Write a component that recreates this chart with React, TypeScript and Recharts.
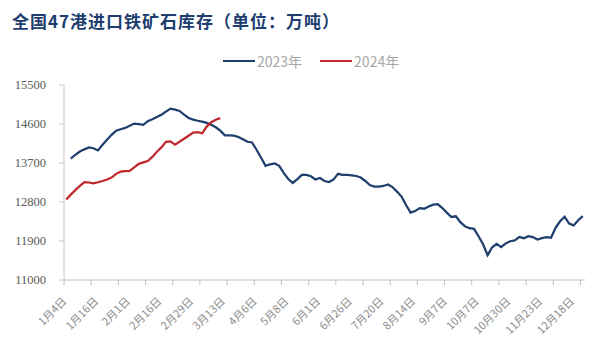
import { Line, LineChart, ReferenceLine, XAxis, YAxis } from "recharts";

const title = "全国47港进口铁矿石库存（单位：万吨）";
const seriesNames = ["2023年", "2024年"];
const seriesColors = ["#1f3f6e", "#c0282d"];

// one label every 7 observations, one tick mark every 6 (as in the source)
const dateLabels = [
  "1月4日", "1月16日", "2月1日", "2月16日", "2月29日", "3月13日", "4月6日", "5月8日", "6月1日",
  "6月26日", "7月20日", "8月14日", "9月7日", "10月7日", "10月30日", "11月23日", "12月18日"
];
const labelStep = 7;
const markStep = 6;
const markCount = 20;

const yTicks = [11000, 11900, 12800, 13700, 14600, 15500];
const yMin = 11000;
const yMax = 15500;

const inventory2023 = [
  null, 13800, 13890, 13965, 14015, 14060, 14040, 13990, 14120, 14235,
  14350, 14445, 14480, 14510, 14560, 14610, 14595, 14580, 14665, 14710,
  14760, 14815, 14885, 14955, 14930, 14900, 14815, 14740, 14700, 14675,
  14655, 14625, 14585, 14525, 14445, 14340, 14340, 14330, 14300, 14250,
  14190, 14175, 14005, 13820, 13635, 13670, 13690, 13635, 13470, 13330,
  13240, 13330, 13425, 13425, 13395, 13320, 13355, 13285, 13260, 13320,
  13450, 13425, 13425, 13415, 13400, 13365, 13285, 13190, 13155, 13155,
  13170, 13205, 13145, 13040, 12925, 12730, 12555, 12590, 12660, 12645,
  12695, 12740, 12750, 12660, 12555, 12455, 12470, 12335, 12240, 12195,
  12180, 12010, 11825, 11570, 11755, 11835, 11760, 11845, 11895, 11915,
  11995, 11965, 12010, 11990, 11935, 11965, 11990, 11975, 12205, 12355,
  12460, 12300, 12260, 12380, 12475
];

const inventory2024 = [
  12855, 12970, 13075, 13170, 13260, 13250, 13230, 13255, 13285, 13320,
  13365, 13450, 13500, 13515, 13520, 13600, 13680, 13715, 13745, 13840,
  13960, 14060, 14190, 14200, 14125, 14190, 14260, 14330, 14400, 14410,
  14385, 14540, 14640, 14700, 14735
];

const rows = inventory2023.map((v, i) => ({
  idx: i,
  y2023: v,
  y2024: i < inventory2024.length ? inventory2024[i] : null
}));

const xDomain = [-0.5, inventory2023.length - 0.5];
const labelTicks = dateLabels.map((_, k) => k * labelStep);
const markTicks = Array.from({ length: markCount }, (_, k) => -0.5 + k * markStep);
// tick marks hang ~5px under the axis: 5px of a 195px tall plot
const markDepth = ((yMax - yMin) * 5) / 195;

function DateTick({ x, y, payload }: any) {
  const label = dateLabels[Math.round(payload.value / labelStep)];
  return (
    <g transform={`translate(${x + 1},${y + 20})`}>
      <text
        x={0}
        y={0}
        textAnchor="end"
        transform="rotate(-45)"
        fontSize={11}
        fill="#8c8c8c"
        fontFamily="'Noto Sans CJK SC', sans-serif"
      >
        {label}
      </text>
    </g>
  );
}

export default function App() {
  return (
    <div
      style={{
        position: "absolute",
        left: 0,
        top: 0,
        width: 596,
        height: 355,
        background: "#fff",
        fontFamily: "'Noto Sans CJK SC', sans-serif"
      }}
    >
      <div
        style={{
          position: "absolute",
          left: 12,
          top: 9,
          fontSize: 17,
          lineHeight: "24px",
          fontWeight: 700,
          color: "#203d70",
          letterSpacing: 1,
          whiteSpace: "nowrap"
        }}
      >
        {title}
      </div>

      <div
        style={{
          position: "absolute",
          left: 223,
          top: 51,
          height: 20,
          display: "flex",
          alignItems: "center",
          fontSize: 14,
          color: "#a6a6a6",
          whiteSpace: "nowrap"
        }}
      >
        {seriesNames.map((name, i) => (
          <div key={name} style={{ display: "flex", alignItems: "center", marginRight: 18 }}>
            <div style={{ width: 32, height: 2.5, background: seriesColors[i], marginRight: 2 }} />
            <span>{name}</span>
          </div>
        ))}
      </div>

      <LineChart
        width={596}
        height={355}
        data={rows}
        margin={{ top: 85, right: 11, bottom: 15, left: 0 }}
        style={{ position: "absolute", left: 0, top: 0 }}
      >
        <XAxis
          dataKey="idx"
          type="number"
          domain={xDomain}
          ticks={labelTicks}
          interval={0}
          tick={<DateTick />}
          tickLine={false}
          axisLine={{ stroke: "#bfbfbf" }}
          tickSize={0}
          height={60}
        />
        <YAxis
          domain={[yMin, yMax]}
          ticks={yTicks}
          interval={0}
          width={64}
          tickSize={5}
          tickMargin={13}
          axisLine={{ stroke: "#c8c8c8" }}
          tickLine={{ stroke: "#c8c8c8" }}
          tick={{ fontSize: 12.5, fill: "#595959", fontFamily: "'Liberation Serif', serif" }}
        />
        {markTicks.map((t) => (
          <ReferenceLine
            key={t}
            segment={[
              { x: t, y: yMin },
              { x: t, y: yMin - markDepth }
            ]}
            stroke="#bfbfbf"
            ifOverflow="visible"
          />
        ))}
        <Line
          dataKey="y2023"
          name={seriesNames[0]}
          type="linear"
          stroke={seriesColors[0]}
          strokeWidth={2.25}
          dot={false}
          isAnimationActive={false}
        />
        <Line
          dataKey="y2024"
          name={seriesNames[1]}
          type="linear"
          stroke={seriesColors[1]}
          strokeWidth={2.25}
          dot={false}
          isAnimationActive={false}
        />
      </LineChart>
    </div>
  );
}
